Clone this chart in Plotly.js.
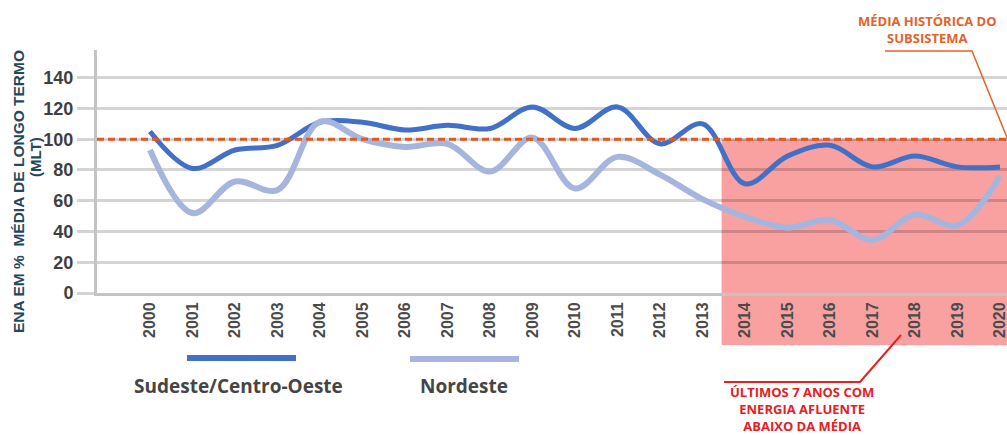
<!DOCTYPE html>
<html>
<head>
<meta charset="utf-8">
<script src="https://cdn.plot.ly/plotly-3.0.1.min.js"></script>
<style>html,body{margin:0;padding:0;background:#fff}#chart{width:1007px;height:435px}</style>
</head>
<body>
<div id="chart"></div>
<script>
const years = [2000,2001,2002,2003,2004,2005,2006,2007,2008,2009,2010,2011,2012,2013,2014,2015,2016,2017,2018,2019,2020];
const yearLabels = years.map(String);
const sudesteCentroOeste = [105,81,93,96,111,111,106,109,107,121,107,121,97,110,71,89,96,82,89,82,82];
const nordeste = [93,52,72.5,67,111.5,100,95,97,79,101,68,88.5,77,61,49.5,42.5,47.5,34.5,51,44,76];
const mediaHistorica = 100;
const yTicks = [0,20,40,60,80,100,120,140];
const destaqueInicio = 2013.45;
const destaqueFim = 2021;

const L = 97, R = 0, T = 50, B = 142, W = 1007, H = 435;
const PW = W - L - R, PH = H - T - B;
const yMax = 158;
const px = v => (v - L) / PW;
const py = v => (H - B - v) / PH;

const traces = [
  {x: years, y: sudesteCentroOeste, type: 'scatter', mode: 'lines', name: 'Sudeste/Centro-Oeste',
   line: {color: '#4170c6', width: 5, shape: 'spline', smoothing: 1}},
  {x: years, y: nordeste, type: 'scatter', mode: 'lines', name: 'Nordeste',
   line: {color: '#a6b5de', width: 6, shape: 'spline', smoothing: 1}}
];

const orange = '#e4622a';
const red = '#e6201f';
const shapes = [
  {type: 'rect', xref: 'x', yref: 'paper', x0: destaqueInicio, x1: destaqueFim, y0: py(345), y1: mediaHistorica / yMax,
   fillcolor: '#f9a1a1', line: {width: 0}, layer: 'below'},
  {type: 'line', xref: 'paper', yref: 'y', x0: 0, x1: 1, y0: mediaHistorica, y1: mediaHistorica,
   line: {color: '#e2581e', width: 3, dash: '7px,4px'}},
  // legend swatches
  {type: 'line', xref: 'paper', yref: 'paper', x0: px(187), x1: px(296), y0: py(358), y1: py(358),
   line: {color: '#4170c6', width: 6}},
  {type: 'line', xref: 'paper', yref: 'paper', x0: px(410), x1: px(519), y0: py(359), y1: py(359),
   line: {color: '#a6b5de', width: 6}},
  // leader: média histórica
  {type: 'path', xref: 'paper', yref: 'paper',
   path: `M ${px(885)} ${py(51)} L ${px(972)} ${py(51)} L ${px(1008)} ${py(140)}`,
   line: {color: orange, width: 1.5}},
  // leader: últimos 7 anos
  {type: 'path', xref: 'paper', yref: 'paper',
   path: `M ${px(724)} ${py(382)} L ${px(860)} ${py(382)} L ${px(901)} ${py(335)}`,
   line: {color: red, width: 2}}
];

const annotations = [
  {xref: 'paper', yref: 'paper', x: px(238), y: py(386), text: 'Sudeste/Centro-Oeste', showarrow: false,
   font: {family: 'Open Sans', size: 19, color: '#454545', weight: 'bold'}, xanchor: 'center', yanchor: 'middle'},
  {xref: 'paper', yref: 'paper', x: px(464), y: py(386), text: 'Nordeste', showarrow: false,
   font: {family: 'Open Sans', size: 19, color: '#454545', weight: 'bold'}, xanchor: 'center', yanchor: 'middle'},
  {xref: 'paper', yref: 'paper', x: px(927), y: py(29), text: 'MÉDIA HISTÓRICA DO<br>SUBSISTEMA', showarrow: false,
   font: {family: 'Open Sans', size: 13, color: orange, weight: 'bold'}, xanchor: 'center', yanchor: 'middle'},
  {xref: 'paper', yref: 'paper', x: px(802), y: py(409), text: 'ÚLTIMOS 7 ANOS COM<br>ENERGIA AFLUENTE<br>ABAIXO DA MÉDIA', showarrow: false,
   font: {family: 'Open Sans', size: 13, color: red, weight: 'bold'}, xanchor: 'center', yanchor: 'middle'},
  {xref: 'paper', yref: 'paper', x: px(18), y: py(192), text: 'ENA EM %  MÉDIA DE LONGO TERMO', showarrow: false, textangle: -90,
   font: {family: 'Liberation Sans', size: 15.5, color: '#24475c', weight: 'bold'}, xanchor: 'center', yanchor: 'middle'},
  {xref: 'paper', yref: 'paper', x: px(35), y: py(157), text: '(MLT)', showarrow: false, textangle: -90,
   font: {family: 'Liberation Sans', size: 15, color: '#24475c', weight: 'bold'}, xanchor: 'center', yanchor: 'middle'}
];

const layout = {
  width: W, height: H,
  margin: {l: L, r: R, t: T, b: B, pad: 0},
  paper_bgcolor: '#ffffff', plot_bgcolor: 'rgba(0,0,0,0)',
  showlegend: false,
  xaxis: {
    range: [1998.753, 2020.165], tickmode: 'array', tickvals: years, ticktext: yearLabels,
    tickangle: -90, showgrid: false, zeroline: false, ticklabeloverflow: 'allow',
    showline: true, linecolor: '#c4c4c4', linewidth: 3,
    ticks: '', ticklen: 7, tickcolor: 'rgba(0,0,0,0)',
    tickfont: {family: 'Liberation Sans', size: 16, color: '#4a4a4a', weight: 'bold'}
  },
  yaxis: {
    range: [0, yMax], tickmode: 'array', tickvals: yTicks,
    showgrid: true, gridcolor: 'rgba(0,0,0,0.17)', gridwidth: 3, zeroline: false,
    showline: true, linecolor: '#c4c4c4', linewidth: 3,
    ticks: 'outside', ticklen: 17, tickwidth: 3, tickcolor: '#d3d3d3',
    tickfont: {family: 'Liberation Sans', size: 18, color: '#3f3f3f', weight: 'bold'}
  },
  shapes: shapes,
  annotations: annotations
};

Plotly.newPlot('chart', traces, layout, {displayModeBar: false, staticPlot: true});
</script>
</body>
</html>
